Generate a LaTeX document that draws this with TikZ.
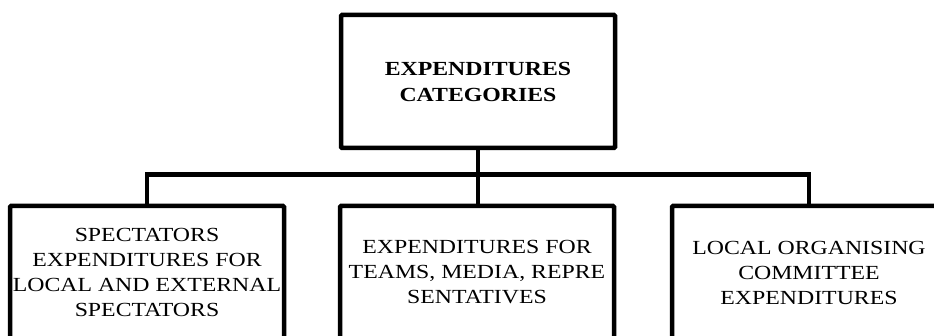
\documentclass[tikz,border=0pt]{standalone}
\usepackage{fontspec}
\setmainfont[FakeStretch=1.19]{Liberation Serif}
\usepackage{tikz}
\usetikzlibrary{positioning}

\begin{document}
\begin{tikzpicture}[x=1pt, y=-1pt,
    catbox/.style={draw=black, line width=4.5pt, rounded corners=1pt, fill=white,
        minimum width=274pt, minimum height=133pt, align=center, inner sep=0pt,
        font=\fontsize{20}{25}\selectfont},
    link/.style={draw=black, line width=4.5pt}]
  \useasboundingbox (0,0) rectangle (934,336);
  \clip (0,0) rectangle (934,336);
  \node[catbox, font=\fontsize{20}{26}\selectfont\bfseries] (cat) at (478,81.5)
    {EXPENDITURES\\CATEGORIES};
  \node[catbox] (spect) at (147,272.5)
    {SPECTATORS\\EXPENDITURES FOR\\LOCAL AND EXTERNAL\\SPECTATORS};
  \node[catbox] (teams) at (477,272.5)
    {EXPENDITURES FOR\\TEAMS, MEDIA, REPRE\\SENTATIVES};
  \node[catbox] (loc) at (809,272.5)
    {LOCAL ORGANISING\\COMMITTEE\\EXPENDITURES};
  \draw[link] (spect.north) -- ++(0,-29) -| (loc.north);
  \draw[link] (cat.south) -- (cat.south |- teams.north);
\end{tikzpicture}
\end{document}
